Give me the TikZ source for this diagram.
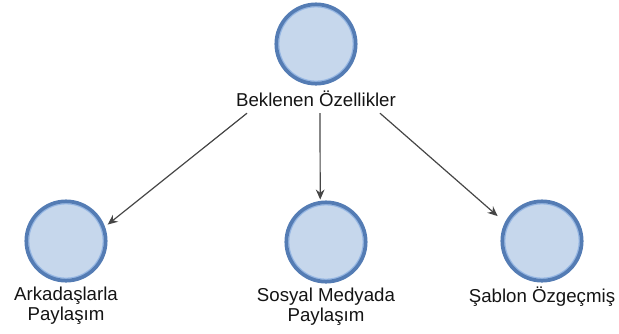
\documentclass[tikz,border=0pt]{standalone}
\usepackage{fontspec}
\setmainfont{Liberation Sans}
\usepackage{xcolor}
\usetikzlibrary{positioning}
\usetikzlibrary{arrows.meta}

\definecolor{nodefill}{RGB}{198,215,236}
\definecolor{nodeedge}{RGB}{84,124,180}
\definecolor{nodeglow}{RGB}{150,183,228}
\definecolor{linkgray}{RGB}{70,70,70}

\begin{document}
\begin{tikzpicture}[x=0.75pt,y=-0.75pt,>={Stealth[length=7.5pt,width=6.5pt]},shorten >=1pt,
                    main node/.style={circle,draw=nodeedge,fill=nodefill,line width=2.8pt,
                      minimum size=59.5pt,inner sep=0pt,
                      path picture={\draw[nodeglow,line width=0.9pt] (path picture bounding box.center) circle (27.9pt);}},
                    name node/.style={font=\fontsize{14pt}{15pt}\selectfont,text=black!92,align=center,inner sep=0pt},
                    link/.style={->,color=linkgray,line width=0.9pt}]
\useasboundingbox (0,0) rectangle (619,333);

\node[main node] (top) at (316,44) {};
\node[name node] (topname) [below=4pt of top] {Beklenen Özellikler};

\node[main node] (share) at (66,241) {};
\node[name node] (sharename) [below=3pt of share] {Arkadaşlarla\\Paylaşım};
\node[main node] (social) at (326,242) {};
\node[name node] (socialname) [below=3pt of social] {Sosyal Medyada\\Paylaşım};
\node[main node] (cv) at (542,241) {};
\node[name node] (cvname) [below=3pt of cv] {Şablon Özgeçmiş};

\path[link]
  ([xshift=-51.75pt,yshift=-4.5pt]topname.south) edge ([shift={(21:1.5pt)}]share.21)
  ([xshift=3pt,yshift=-4.5pt]topname.south) edge (social.98)
  ([xshift=48pt,yshift=-4.5pt]topname.south) edge ([shift={(151:6pt)}]cv.151);
\end{tikzpicture}
\end{document}
